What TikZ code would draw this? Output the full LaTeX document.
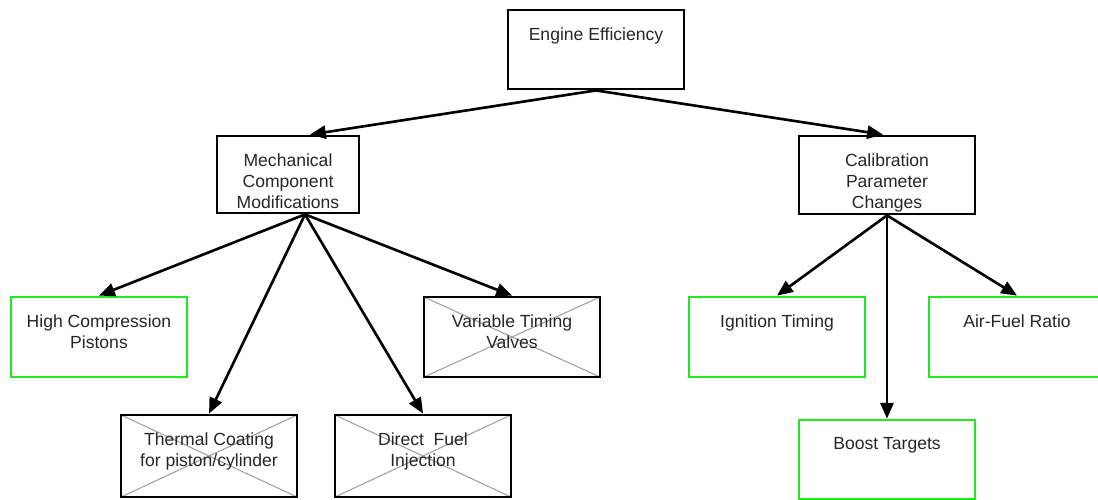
\documentclass[tikz,border=0pt]{standalone}
\usepackage{fontspec}
\setmainfont{Liberation Sans}
\usetikzlibrary{arrows.meta,calc}
\definecolor{boxgreen}{RGB}{30,235,30}
\definecolor{crossgray}{RGB}{160,160,160}
\newcommand{\boxlabel}[3]{\parbox[c][#2][t]{#1}{\centering\vspace*{10pt}#3}}
\begin{document}
\begin{tikzpicture}[x=0.02cm,y=-0.02cm,
  font=\fontsize{10}{12}\selectfont,
  plain/.style={draw=black,line width=1.6pt,inner sep=0pt,text=black!85},
  goal/.style={plain,draw=boxgreen},
  dropped/.style={plain,path picture={
    \draw[crossgray,line width=.6pt]
      (path picture bounding box.north west) -- (path picture bounding box.south east)
      (path picture bounding box.south west) -- (path picture bounding box.north east);}},
  link/.style={-{Triangle[length=9pt,width=7.5pt]},line width=1.5pt}]

\path[use as bounding box,clip] (0,0) rectangle (1098,500);
% top level
\node[plain] (eng) at (596,49.5) {\boxlabel{3.52cm}{1.58cm}{Engine Efficiency}};
\node[plain] (mech) at (288,174.5) {\boxlabel{2.84cm}{1.54cm}{Mechanical\\Component\\Modifications}};
\node[plain] (calib) at (887,175) {\boxlabel{3.52cm}{1.56cm}{Calibration\\Parameter\\Changes}};
% mechanical branch
\node[goal] (pistons) at (99,337) {\boxlabel{3.52cm}{1.6cm}{High Compression\\Pistons}};
\node[dropped] (valves) at (512,337) {\boxlabel{3.52cm}{1.6cm}{Variable Timing\\Valves}};
\node[dropped] (coating) at (209,456) {\boxlabel{3.52cm}{1.64cm}{Thermal Coating\\for piston/cylinder}};
\node[dropped] (injection) at (423,456) {\boxlabel{3.52cm}{1.64cm}{Direct\ \ Fuel\\Injection}};
% calibration branch
\node[goal] (ignition) at (777,337) {\boxlabel{3.52cm}{1.6cm}{Ignition Timing}};
\node[goal] (afr) at (1017,337) {\boxlabel{3.52cm}{1.6cm}{Air-Fuel Ratio}};
\node[goal] (boost) at (887,459.5) {\boxlabel{3.52cm}{1.58cm}{Boost Targets}};

\draw[link] (eng.south) -- ($(mech.north)+(22,0)$);
\draw[link] (eng.south) -- ($(calib.north)+(-4,0)$);
\foreach \tgt in {pistons,coating,injection,valves}
  \draw[link] ($(mech.south)+(17,0)$) -- (\tgt.north);
\foreach \tgt in {ignition,boost,afr}
  \draw[link] (calib.south) -- (\tgt.north);

\end{tikzpicture}
\end{document}
